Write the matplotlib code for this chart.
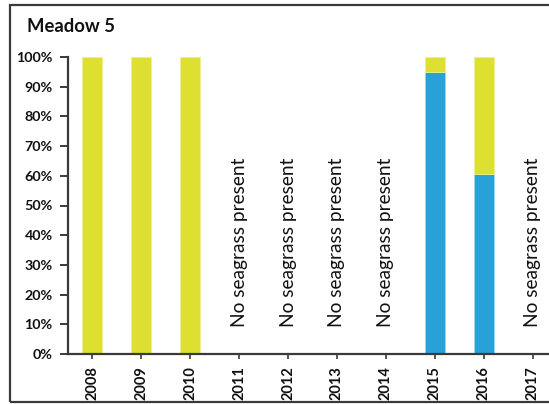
import matplotlib
matplotlib.use("Agg")
import matplotlib.pyplot as plt
from matplotlib.patches import Rectangle
from matplotlib.ticker import FuncFormatter

years = ["2008", "2009", "2010", "2011", "2012", "2013", "2014", "2015", "2016", "2017"]
blue_pct = [0, 0, 0, 0, 0, 0, 0, 95, 60.5, 0]
yellow_pct = [100, 100, 100, 0, 0, 0, 0, 5, 39.5, 0]
absent_years = ["2011", "2012", "2013", "2014", "2017"]
absent_label = "No seagrass present"
title = "Meadow 5"

plt.rcParams['font.family'] = ['Lato', 'DejaVu Sans']

fig = plt.figure(figsize=(5.49, 4.04), dpi=100)
ax = fig.add_axes([68/549, (404-354)/404, (557-68)/549, 297/404])

x = list(range(len(years)))
blue_c = "#27a1d8"
yellow_c = "#dde031"
ax.bar(x, blue_pct, width=0.41, color=blue_c, edgecolor="#9fd3ec", linewidth=0.6, zorder=2)
ax.bar(x, yellow_pct, bottom=blue_pct, width=0.41, color=yellow_c, edgecolor="#eef08f", linewidth=0.6, zorder=2)

for yr in absent_years:
    i = years.index(yr)
    ax.text(i, 37.5, absent_label, rotation=90, ha="center", va="center",
            fontsize=13.8, color="#111111")

ax.set_xlim(-0.5, 9.5)
ax.set_ylim(0, 100)
ax.set_yticks(range(0, 101, 10))
ax.yaxis.set_major_formatter(FuncFormatter(lambda v, p: f"{int(v)}%"))
ax.set_xticks(x)
ax.set_xticklabels(years, rotation=90, fontweight="bold", fontsize=10.5)
for lab in ax.get_yticklabels():
    lab.set_fontweight("bold")
    lab.set_fontsize(10.3)

for s in ["top", "right"]:
    ax.spines[s].set_visible(False)
for s in ["left", "bottom"]:
    ax.spines[s].set_color("#3a3a3a")
    ax.spines[s].set_linewidth(1.6)
ax.tick_params(axis="y", length=6, width=1.4, color="#3a3a3a", pad=5, labelcolor="#111111")
ax.tick_params(axis="x", length=3.5, width=1.2, color="#3a3a3a", pad=5, labelcolor="#111111")

fig.text(27/549, 1 - 26/404, title, fontsize=13.3, fontweight="bold", va="center", ha="left", color="#111111")

fig.patches.append(Rectangle((10/549, 2.5/404), 1.2, 1 - 7.5/404, transform=fig.transFigure,
                             fill=False, edgecolor="#3a3a3a", linewidth=1.6))

fig.savefig("out.png", dpi=100)
